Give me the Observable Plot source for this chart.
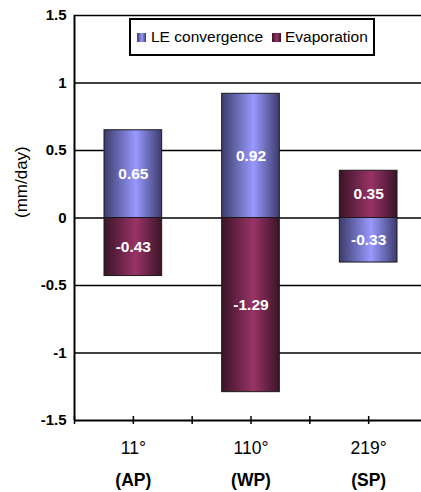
<!DOCTYPE html>
<html>
<head>
<meta charset="utf-8">
<script src="https://cdn.jsdelivr.net/npm/d3@7"></script>
<script src="https://cdn.jsdelivr.net/npm/@observablehq/plot@0.6"></script>
<style>
  html, body { margin: 0; padding: 0; background: #fff; overflow: hidden; }
  #wrap { position: relative; width: 421px; height: 492px; font-family: "Liberation Sans", Arial, sans-serif; }
  #legend {
    position: absolute; left: 129px; top: 18px; width: 242px; height: 34px;
    border: 2px solid #000; background: #fff; display: flex; align-items: center;
    font-size: 15.5px; color: #000; box-sizing: content-box;
  }
  .sw { width: 9px; height: 9px; display: inline-block; }
  .le { background: linear-gradient(to right, #3c3c6c, #9999ff 55%, #3c3c6c); }
  .ev { background: linear-gradient(to right, #3a1428, #993366 55%, #3a1428); }
</style>
</head>
<body>
<div id="wrap"></div>
<script>
// Data
const categories = ["11°", "110°", "219°"];
const regions = ["(AP)", "(WP)", "(SP)"];
const leConvergence = [0.65, 0.92, -0.33];
const evaporation = [-0.43, -1.29, 0.35];
const yTicks = [-1.5, -1, -0.5, 0, 0.5, 1, 1.5];
const yDomain = [-1.5, 1.5];
const xDomain = [-0.5, 2.5];
const xTicks = [-0.5, 0, 0.5, 1, 1.5, 2, 2.5];

const half = 0.245; // bar half-width in category units (style)
const leRows = leConvergence.map((v, i) => ({i, v}));
const evRows = evaporation.map((v, i) => ({i, v}));

const svg = Plot.plot({
  width: 421,
  height: 492,
  marginLeft: 74,
  marginRight: -6,
  marginTop: 15,
  marginBottom: 72,
  style: {fontFamily: "'Liberation Sans', Arial, sans-serif", background: "#fff", color: "#000", overflow: "visible"},
  x: {type: "linear", domain: xDomain, axis: null},
  y: {domain: yDomain, axis: null},
  marks: [
    Plot.ruleY(yTicks.filter(d => d > yDomain[0]), {stroke: "#000", strokeWidth: 1.5}),
    Plot.rectY(leRows, {x1: d => d.i - half, x2: d => d.i + half, y1: 0, y2: d => d.v, fill: "url(#gLE)", stroke: "#1a1a1a", strokeWidth: 1}),
    Plot.rectY(evRows, {x1: d => d.i - half, x2: d => d.i + half, y1: 0, y2: d => d.v, fill: "url(#gEV)", stroke: "#1a1a1a", strokeWidth: 1}),
    Plot.text(leRows, {x: "i", y: d => d.v / 2, text: d => String(d.v), fill: "#fff", fontWeight: "bold", fontSize: 15.5}),
    Plot.text(evRows, {x: "i", y: d => d.v / 2, text: d => String(d.v), fill: "#fff", fontWeight: "bold", fontSize: 15.5}),
    Plot.ruleY([yDomain[0]], {stroke: "#000", strokeWidth: 2}),
    Plot.ruleX([xDomain[0]], {stroke: "#000", strokeWidth: 2}),
    Plot.ruleX(xTicks, {x: d => d, y1: yDomain[0], y2: yDomain[0], insetTop: -4, insetBottom: -4, stroke: "#000", strokeWidth: 1.5}),
    Plot.axisY({ticks: yTicks, tickSize: 0, tickPadding: 8, tickFormat: d => String(d), fontWeight: "bold", fontSize: 15, label: null}),
    Plot.axisX({ticks: [0, 1, 2], tickSize: 0, tickPadding: 21, tickFormat: i => categories[i], fontSize: 17.5, label: null}),
    Plot.axisX({ticks: [0, 1, 2], tickSize: 0, tickPadding: 53, tickFormat: i => regions[i], fontSize: 17.5, fontWeight: "bold", label: null}),
    Plot.text(["(mm/day)"], {frameAnchor: "left", rotate: -90, dx: -53, fontSize: 17, text: d => d})
  ]
});

const defs = d3.select(svg).insert("defs", ":first-child");
function grad(id, dark, light) {
  const g = defs.append("linearGradient").attr("id", id).attr("x1", 0).attr("x2", 1).attr("y1", 0).attr("y2", 0);
  [[0, dark], [0.55, light], [1, dark]].forEach(([o, c]) => g.append("stop").attr("offset", o).attr("stop-color", c));
}
grad("gLE", "#3c3c6c", "#9999ff");
grad("gEV", "#3a1428", "#993366");

const wrap = document.getElementById("wrap");
wrap.appendChild(svg);
const legend = document.createElement("div");
legend.id = "legend";
legend.innerHTML = '<span class="sw le" style="margin-left:6px"></span><span style="margin-left:5px">LE convergence</span>' +
  '<span class="sw ev" style="margin-left:9px"></span><span style="margin-left:4px">Evaporation</span>';
wrap.appendChild(legend);
</script>
</body>
</html>
